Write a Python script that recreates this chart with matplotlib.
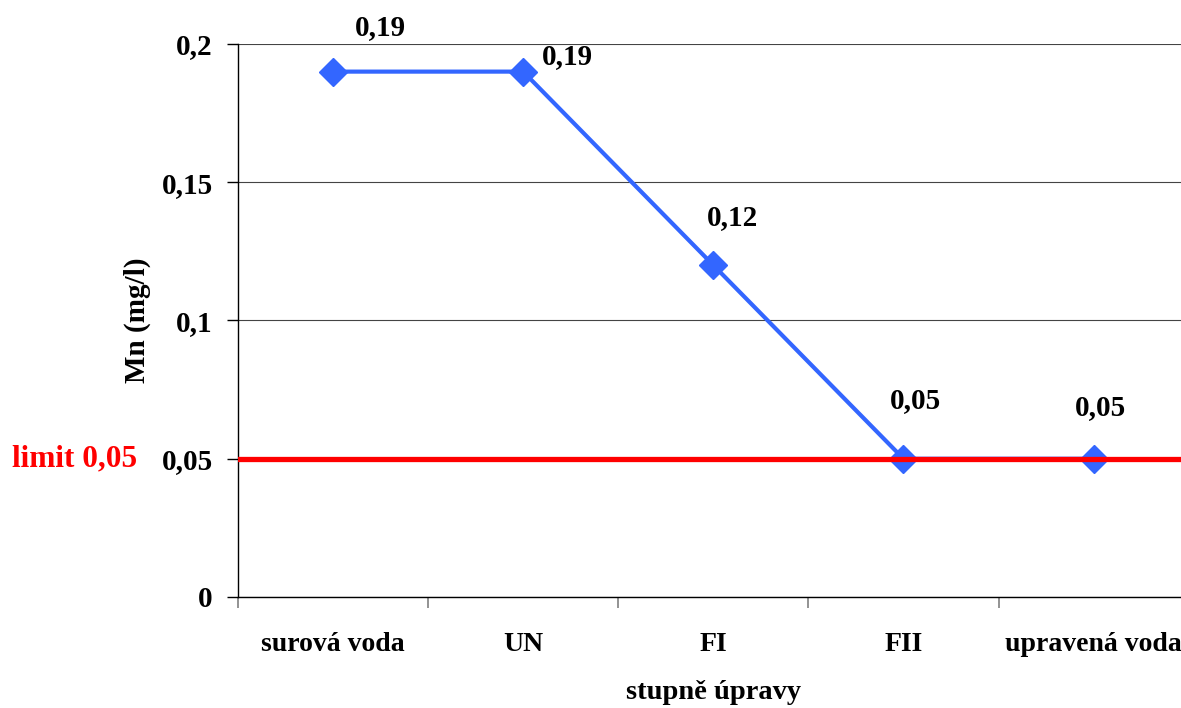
import matplotlib.pyplot as plt

plt.rcParams['font.family'] = ['Liberation Serif', 'DejaVu Serif']
plt.rcParams['font.weight'] = 'bold'

stages = ['surová voda', 'UN', 'FI', 'FII', 'upravená voda']
mn = [0.19, 0.19, 0.12, 0.05, 0.05]
labels = ['0,19', '0,19', '0,12', '0,05', '0,05']
yticks = [0, 0.05, 0.1, 0.15, 0.2]
ytick_labels = ['0', '0,05', '0,1', '0,15', '0,2']
limit = 0.05

# label offsets in pixels (hand placed like in excel)
offsets = [(47, 44), (44, 15), (19, 48), (12, 58), (7, 51)]

fig = plt.figure(figsize=(11.81, 7.08), dpi=100)
ax = fig.add_axes([0.2015, 0.1568, 0.805, 0.7811])

x = range(len(stages))
ax.plot(x, mn, color='#3366FF', lw=3, marker='D', ms=14, zorder=3)
ax.axhline(limit, color='#FF0000', lw=3.8, zorder=4)

for i, (v, t) in enumerate(zip(mn, labels)):
    ax.annotate(t, (i, v), xytext=offsets[i], textcoords='offset pixels',
                ha='center', va='center', fontsize=21, fontweight='bold')

ax.set_xlim(-0.5, len(stages) - 0.5)
ax.set_ylim(0, 0.2)
ax.set_yticks(yticks)
ax.set_yticklabels(ytick_labels)
ax.set_xticks(list(x))
ax.set_xticklabels(stages)
ax.set_xticks([i - 0.5 for i in range(len(stages) + 1)], minor=True)
ax.tick_params(axis='x', which='major', length=0, pad=25, labelsize=20)
ax.tick_params(axis='x', which='minor', length=8, color='#808080', width=1.2)
ax.tick_params(axis='y', length=8, width=1, pad=10, labelsize=21)
ax.grid(axis='y', color='#444444', lw=0.8)
ax.set_axisbelow(True)

for s in ['top', 'right']:
    ax.spines[s].set_visible(False)
ax.spines['left'].set_linewidth(1)
ax.spines['bottom'].set_linewidth(1)

ax.set_ylabel('Mn (mg/l)', fontsize=21, fontweight='bold', labelpad=8)
ax.set_xlabel('stupně úpravy', fontsize=20.5, fontweight='bold', labelpad=17)

ax.text(-0.106, limit, 'limit 0,05', transform=ax.get_yaxis_transform(),
        color='#FF0000', fontsize=22.5, fontweight='bold', ha='right', va='center')

fig.savefig('out.png', dpi=100)
